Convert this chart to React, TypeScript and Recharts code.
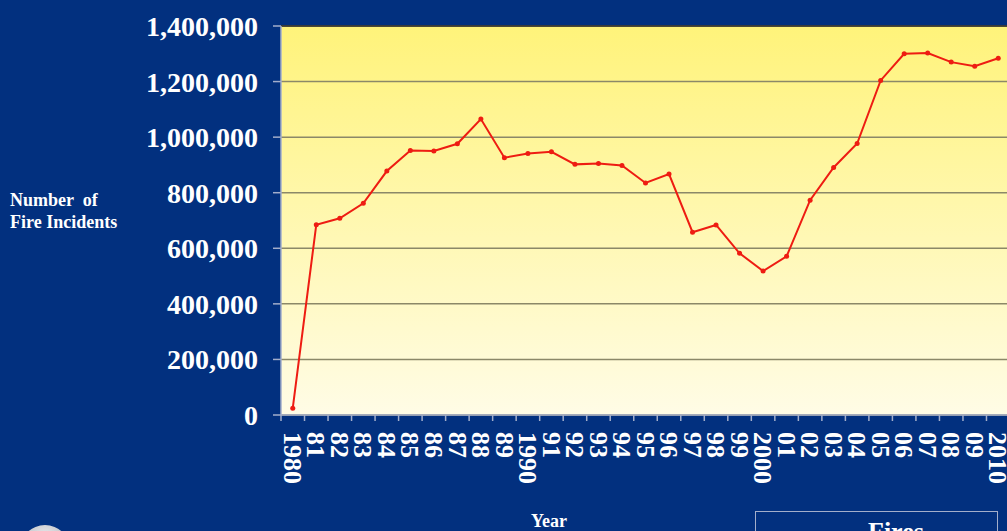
import React from 'react';
import {
  LineChart,
  Line,
  XAxis,
  YAxis,
  CartesianGrid,
  ReferenceLine,
  Label,
} from 'recharts';

// Fire incidents per year
const YEARS = [
  '1980', '81', '82', '83', '84', '85', '86', '87', '88', '89',
  '1990', '91', '92', '93', '94', '95', '96', '97', '98', '99',
  '2000', '01', '02', '03', '04', '05', '06', '07', '08', '09', '2010',
];

const FIRES = [
  24500, 685000, 708000, 762000, 878000, 952000, 950000, 976000, 1065000, 926000,
  941000, 947000, 902000, 905000, 898000, 835000, 867000, 658000, 684000, 582000,
  518000, 571000, 773000, 891000, 977000, 1204000, 1300000, 1303000, 1270000, 1255000, 1284000,
];

const Y_TICKS = [0, 200000, 400000, 600000, 800000, 1000000, 1200000, 1400000];

const data = YEARS.map((year, i) => ({ year, fires: FIRES[i] }));

const NAVY = '#02307f';
const AXIS = '#a3aecb';
const RED = '#ee1c12';
const SERIF = '"Liberation Serif", "Times New Roman", serif';

const YearTick = (props: any) => {
  const { x, y, payload } = props;
  const half = payload.offset ?? 11.76;
  return (
    <g>
      <line x1={x - half} x2={x - half} y1={y - 8} y2={y - 2} stroke={AXIS} strokeWidth={1.5} />
      <text
        transform={`translate(${x},${y + 9}) rotate(90)`}
        dy="0.34em"
        fill="#fff"
        fontFamily={SERIF}
        fontWeight="bold"
        fontSize={26}
        textAnchor="start"
      >
        {payload.value}
      </text>
    </g>
  );
};

const App = () => {
  return (
    <div
      style={{
        position: 'absolute',
        left: 0,
        top: 0,
        width: 1007,
        height: 531,
        overflow: 'hidden',
        background: NAVY,
      }}
    >
      <LineChart
        width={1007}
        height={531}
        data={data}
        margin={{ top: 26, right: -3, bottom: 0, left: 0 }}
      >
        <defs>
          <linearGradient id="plotBg" x1="0" y1="0" x2="0" y2="1">
            <stop offset="0%" stopColor="#fff37a" />
            <stop offset="100%" stopColor="#fffce6" />
          </linearGradient>
        </defs>
        <CartesianGrid
          vertical={false}
          stroke="#8b8868"
          strokeWidth={1.5}
          fill="url(#plotBg)"
          fillOpacity={1}
        />
        <XAxis
          dataKey="year"
          scale="band"
          interval={0}
          height={116}
          axisLine={{ stroke: AXIS, strokeWidth: 1.5 }}
          tickLine={false}
          tickSize={6}
          tickMargin={2}
          tick={<YearTick />}
        >
          <Label
            content={({ viewBox }: any) => (
              <text
                x={viewBox.x + 268}
                y={viewBox.y + viewBox.height - 4}
                fill="#fff"
                fontFamily={SERIF}
                fontWeight="bold"
                fontSize={18}
                textAnchor="middle"
              >
                Year
              </text>
            )}
          />
        </XAxis>
        <YAxis
          width={281}
          domain={[0, 1400000]}
          ticks={Y_TICKS}
          interval={0}
          tickFormatter={(v: number) => v.toLocaleString('en-US')}
          axisLine={{ stroke: AXIS, strokeWidth: 1.5 }}
          tickLine={{ stroke: AXIS, strokeWidth: 1.5 }}
          tickSize={8}
          tickMargin={15}
          tick={{ fill: '#fff', fontFamily: SERIF, fontWeight: 'bold', fontSize: 28 }}
        >
          <Label
            content={() => (
              <text fill="#fff" fontFamily={SERIF} fontWeight="bold" fontSize={18}>
                <tspan x={10} y={206} style={{ whiteSpace: 'pre' }}>{'Number  of'}</tspan>
                <tspan x={10} y={228}>Fire Incidents</tspan>
              </text>
            )}
          />
        </YAxis>
        <ReferenceLine y={1400000} stroke="#2a2a2a" strokeWidth={1.5} />
        <Line
          type="linear"
          dataKey="fires"
          name="Fires"
          stroke={RED}
          strokeWidth={2}
          dot={{ r: 2.5, fill: RED, stroke: RED, strokeWidth: 0 }}
          isAnimationActive={false}
        />
      </LineChart>

      {/* legend box, cut off by the bottom edge */}
      <div
        style={{
          position: 'absolute',
          left: 755,
          top: 511,
          width: 243,
          height: 40,
          border: `1px solid ${AXIS}`,
          boxSizing: 'border-box',
        }}
      >
        <div
          style={{
            position: 'absolute',
            left: 79,
            top: 19,
            width: 28,
            height: 3,
            background: RED,
          }}
        />
        <div
          style={{
            position: 'absolute',
            left: 112,
            top: 5,
            color: '#fff',
            fontFamily: SERIF,
            fontWeight: 'bold',
            fontSize: 26,
            lineHeight: '30px',
          }}
        >
          Fires
        </div>
      </div>

      {/* seal in the bottom-left corner */}
      <div
        style={{
          position: 'absolute',
          left: 20,
          top: 525,
          width: 50,
          height: 50,
          borderRadius: '50%',
          background: 'radial-gradient(circle at 50% 30%, #f2f2f2 0%, #b9bcc4 60%, #7d8394 100%)',
        }}
      />
    </div>
  );
};

export default App;
